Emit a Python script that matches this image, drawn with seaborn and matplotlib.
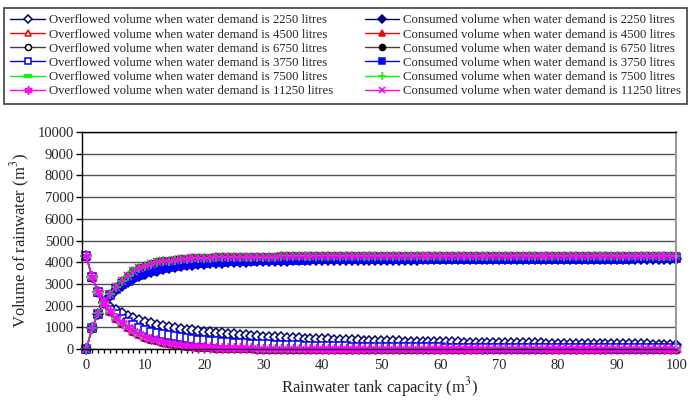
# Rainwater tank: overflowed and consumed volume vs tank capacity
import pandas as pd
import seaborn as sns
import matplotlib.pyplot as plt
from matplotlib.ticker import MultipleLocator

# tank capacity (m3), one point per cubic metre
capacity = list(range(101))

# overflowed volume (m3)
ov_2250 = [4280, 3310, 2640, 2170, 1950, 1800, 1650, 1520, 1420, 1330,
           1250, 1180, 1120, 1070, 1020, 980, 940, 900, 870, 840,
           810, 780, 750, 730, 700, 680, 660, 640, 620, 600,
           580, 565, 550, 535, 520, 505, 495, 485, 475, 465,
           455, 445, 435, 425, 418, 410, 402, 395, 388, 380,
           372, 365, 360, 355, 350, 345, 340, 335, 330, 325,
           320, 315, 311, 307, 303, 299, 295, 291, 287, 283,
           280, 277, 274, 271, 268, 265, 262, 259, 256, 253,
           250, 247, 244, 241, 238, 235, 232, 230, 228, 226,
           224, 222, 220, 218, 216, 214, 212, 210, 208, 206,
           204]
ov_3750 = [4280, 3310, 2640, 2150, 1800, 1600, 1400, 1230, 1090, 970,
           880, 800, 740, 680, 630, 590, 550, 510, 475, 440,
           410, 385, 360, 340, 320, 300, 285, 270, 255, 240,
           228, 216, 205, 195, 186, 178, 170, 162, 155, 148,
           142, 136, 131, 126, 121, 117, 113, 109, 105, 102,
           99, 96, 93, 90, 88, 86, 84, 82, 80, 78,
           76, 74, 72, 71, 70, 69, 68, 67, 66, 65,
           64, 63, 62, 61, 60, 59, 58, 57, 56, 55,
           55, 54, 54, 53, 53, 52, 52, 51, 51, 50,
           50, 50, 49, 49, 48, 48, 47, 47, 46, 46,
           45]
# 4500, 6750, 7500 and 11250 litres overlap on the chart
ov_high = [4280, 3300, 2630, 2120, 1750, 1430, 1200, 1000, 830, 690,
           580, 480, 400, 330, 275, 230, 190, 160, 135, 115,
           100, 85, 72, 62, 54, 47, 40, 35, 30, 26,
           22, 19, 16, 14, 12, 10, 9, 8, 7, 6,
           5, 4, 4, 3, 3, 3, 2, 2, 2, 2,
           1, 1, 1, 1, 1, 1, 1, 1, 1, 1,
           0, 0, 0, 0, 0, 0, 0, 0, 0, 0,
           0, 0, 0, 0, 0, 0, 0, 0, 0, 0,
           0, 0, 0, 0, 0, 0, 0, 0, 0, 0,
           0, 0, 0, 0, 0, 0, 0, 0, 0, 0,
           0]

# consumed volume (m3)
co_2250 = [0, 965, 1630, 2120, 2440, 2710, 2920, 3090, 3240, 3360,
           3460, 3545, 3615, 3680, 3735, 3780, 3820, 3855, 3885, 3910,
           3932, 3952, 3970, 3985, 3998, 4010, 4020, 4030, 4038, 4046,
           4053, 4060, 4066, 4072, 4077, 4082, 4086, 4090, 4094, 4097,
           4100, 4103, 4106, 4108, 4110, 4112, 4114, 4116, 4118, 4120,
           4121, 4122, 4123, 4124, 4125, 4126, 4127, 4128, 4129, 4130,
           4131, 4132, 4133, 4134, 4135, 4136, 4137, 4138, 4139, 4140,
           4141, 4142, 4143, 4144, 4145, 4146, 4147, 4148, 4149, 4150,
           4150, 4151, 4151, 4152, 4152, 4153, 4153, 4154, 4154, 4155,
           4155, 4156, 4156, 4157, 4157, 4158, 4158, 4159, 4159, 4160,
           4160]
co_3750 = [0, 970, 1640, 2140, 2480, 2760, 2980, 3160, 3310, 3430,
           3530, 3610, 3680, 3740, 3790, 3830, 3870, 3900, 3930, 3955,
           3975, 3995, 4010, 4025, 4038, 4050, 4060, 4070, 4078, 4086,
           4093, 4100, 4105, 4110, 4114, 4118, 4122, 4125, 4128, 4131,
           4134, 4136, 4138, 4140, 4142, 4144, 4146, 4148, 4150, 4151,
           4152, 4153, 4154, 4155, 4156, 4157, 4158, 4159, 4160, 4160,
           4161, 4162, 4162, 4163, 4164, 4164, 4165, 4165, 4166, 4166,
           4167, 4167, 4168, 4168, 4169, 4169, 4170, 4170, 4170, 4171,
           4171, 4171, 4172, 4172, 4172, 4173, 4173, 4173, 4173, 4174,
           4174, 4174, 4174, 4175, 4175, 4175, 4175, 4175, 4176, 4176,
           4176]
co_high = [0, 980, 1650, 2160, 2540, 2870, 3150, 3380, 3580, 3740,
           3850, 3930, 3990, 4040, 4080, 4110, 4140, 4160, 4180, 4195,
           4205, 4215, 4225, 4232, 4238, 4243, 4248, 4252, 4256, 4259,
           4262, 4264, 4266, 4268, 4269, 4270, 4271, 4272, 4273, 4274,
           4275, 4275, 4276, 4276, 4277, 4277, 4277, 4278, 4278, 4278,
           4278, 4278, 4279, 4279, 4279, 4279, 4279, 4280, 4280, 4280,
           4280, 4280, 4280, 4280, 4280, 4280, 4280, 4280, 4280, 4280,
           4280, 4280, 4280, 4280, 4280, 4280, 4280, 4280, 4280, 4280,
           4280, 4280, 4280, 4280, 4280, 4280, 4280, 4280, 4280, 4280,
           4280, 4280, 4280, 4280, 4280, 4280, 4280, 4280, 4280, 4280,
           4280]

demands = [2250, 4500, 6750, 3750, 7500, 11250]
overflowed = {2250: ov_2250, 4500: ov_high, 6750: ov_high,
              3750: ov_3750, 7500: ov_high, 11250: ov_high}
consumed = {2250: co_2250, 4500: co_high, 6750: co_high,
            3750: co_3750, 7500: co_high, 11250: co_high}

# line colour, marker colour, overflow marker, consumed marker, sizes
styles = {
    2250: ('#000080', '#000080', 'D', 'D', 5.2, 5.2),
    4500: ('#FF0000', '#FF0000', '^', '^', 6, 6),
    6750: ('#404040', '#000000', 'o', 'o', 5.5, 5.5),
    3750: ('#0000FF', '#0000FF', 's', 's', 5.8, 5.8),
    7500: ('#00FF00', '#00FF00', '_', '+', 6.5, 7.5),
    11250: ('#FF00FF', '#FF00FF', (6, 2, 0), 'x', 7.5, 6),
}

sns.set_style('white')
plt.rcParams['font.family'] = ['Liberation Serif', 'DejaVu Serif']
plt.rcParams['mathtext.fontset'] = 'stix'

fig = plt.figure(figsize=(6.9, 4.05), dpi=100)
ax = fig.add_axes([0.119, 0.138, 0.861, 0.536])

handles = {}
for d in demands:
    lc, mc, m_ov, m_co, s_ov, s_co = styles[d]
    # overflowed series use hollow markers (except the dash / star ones)
    ov_face = 'white' if m_ov in ('D', '^', 'o', 's') else mc
    ov_mew = 3 if m_ov == '_' else 1.1
    sns.lineplot(x=capacity, y=overflowed[d], ax=ax, color=lc, linewidth=1,
                 marker=m_ov, markersize=s_ov, markerfacecolor=ov_face,
                 markeredgecolor=mc, markeredgewidth=ov_mew, clip_on=False,
                 label=f'Overflowed volume when water demand is {d} litres')
    handles[('ov', d)] = ax.get_lines()[-1]
    sns.lineplot(x=capacity, y=consumed[d], ax=ax, color=lc, linewidth=1,
                 marker=m_co, markersize=s_co, markerfacecolor=mc,
                 markeredgecolor=mc, markeredgewidth=1.1, clip_on=False,
                 label=f'Consumed volume when water demand is {d} litres')
    handles[('co', d)] = ax.get_lines()[-1]

if ax.get_legend() is not None:
    ax.get_legend().remove()

ax.set_xlim(-0.7, 100)
ax.set_ylim(0, 10000)
ax.xaxis.set_major_locator(MultipleLocator(10))
ax.xaxis.set_minor_locator(MultipleLocator(1))
ax.yaxis.set_major_locator(MultipleLocator(1000))
ax.tick_params(axis='x', which='both', direction='out', length=3, width=1,
               bottom=True, labelsize=10.5, pad=4, color='black')
ax.tick_params(axis='y', direction='out', length=4, width=1, left=True,
               labelsize=10.5, pad=2, color='black')
ax.yaxis.grid(True, color='#505050', linewidth=1)
ax.set_axisbelow(True)
for side in ('left', 'bottom', 'top'):
    ax.spines[side].set_color('black')
    ax.spines[side].set_linewidth(1)
ax.spines['right'].set_color('#999999')
ax.spines['right'].set_linewidth(1.5)

ax.set_xlabel('Rainwater tank capacity (m$^{3}$)', fontsize=12, labelpad=2)
ax.set_ylabel('Volume of rainwater (m$^{3}$)', fontsize=12, labelpad=4)

order = [('ov', d) for d in demands] + [('co', d) for d in demands]
leg = fig.legend([handles[k] for k in order],
                 [handles[k].get_label() for k in order],
                 ncol=2, loc='upper left', mode='expand',
                 bbox_to_anchor=(0.006, 0.98, 0.99, 0.0),
                 fontsize=9.15, frameon=True, fancybox=False, framealpha=1,
                 edgecolor='#404040', handlelength=2.7, handletextpad=0.3,
                 labelspacing=0.17, borderpad=0.5, borderaxespad=0,
                 columnspacing=1.0, markerscale=0.8)
leg.get_frame().set_linewidth(1.2)

fig.savefig('out.png', dpi=100)
